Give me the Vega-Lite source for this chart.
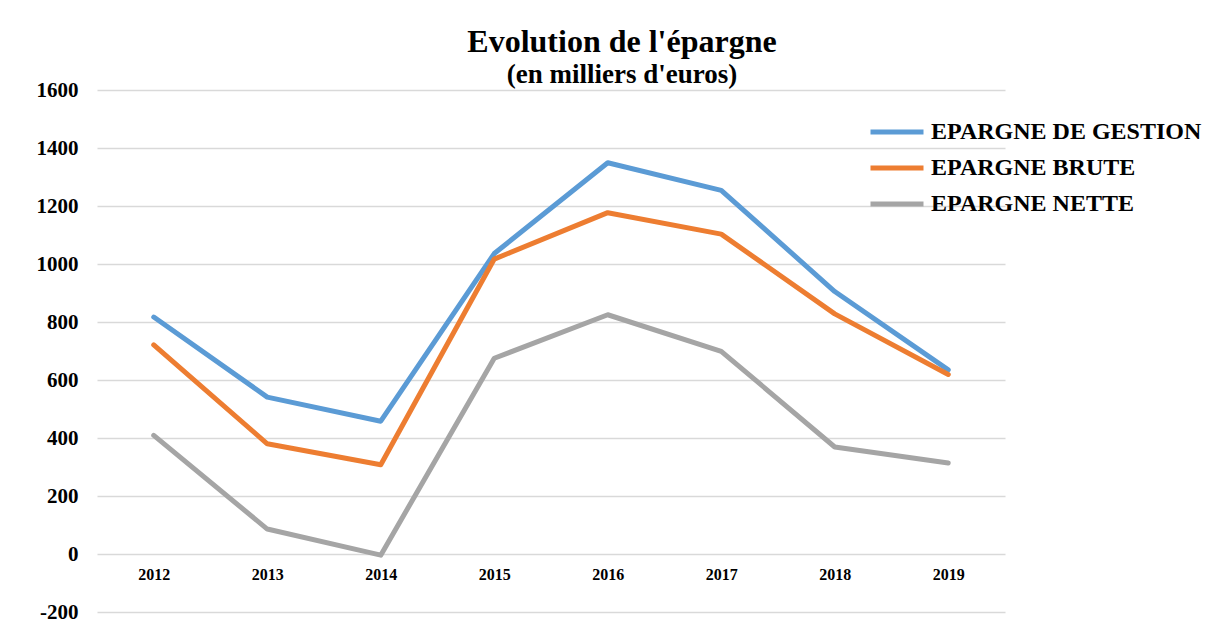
{
  "$schema": "https://vega.github.io/schema/vega-lite/v6.json",
  "width": 908,
  "height": 522,
  "autosize": {"type": "none"},
  "padding": {"left": 97, "top": 90, "right": 210, "bottom": 16},
  "background": "white",
  "config": {"view": {"stroke": null}},
  "title": {
    "text": "Evolution de l'épargne",
    "subtitle": "(en milliers d'euros)",
    "anchor": "middle",
    "dx": 71,
    "offset": -10,
    "font": "Liberation Serif",
    "fontSize": 32,
    "fontWeight": "bold",
    "color": "black",
    "subtitleFont": "Liberation Serif",
    "subtitleFontSize": 27,
    "subtitleFontWeight": "bold",
    "subtitleColor": "black",
    "subtitlePadding": 3
  },
  "data": {
    "values": [
      {"annee": "2012", "serie": "EPARGNE DE GESTION", "valeur": 817},
      {"annee": "2013", "serie": "EPARGNE DE GESTION", "valeur": 541},
      {"annee": "2014", "serie": "EPARGNE DE GESTION", "valeur": 458},
      {"annee": "2015", "serie": "EPARGNE DE GESTION", "valeur": 1036},
      {"annee": "2016", "serie": "EPARGNE DE GESTION", "valeur": 1349},
      {"annee": "2017", "serie": "EPARGNE DE GESTION", "valeur": 1254},
      {"annee": "2018", "serie": "EPARGNE DE GESTION", "valeur": 905},
      {"annee": "2019", "serie": "EPARGNE DE GESTION", "valeur": 635},
      {"annee": "2012", "serie": "EPARGNE BRUTE", "valeur": 721},
      {"annee": "2013", "serie": "EPARGNE BRUTE", "valeur": 380},
      {"annee": "2014", "serie": "EPARGNE BRUTE", "valeur": 308},
      {"annee": "2015", "serie": "EPARGNE BRUTE", "valeur": 1017},
      {"annee": "2016", "serie": "EPARGNE BRUTE", "valeur": 1177},
      {"annee": "2017", "serie": "EPARGNE BRUTE", "valeur": 1103},
      {"annee": "2018", "serie": "EPARGNE BRUTE", "valeur": 828},
      {"annee": "2019", "serie": "EPARGNE BRUTE", "valeur": 619},
      {"annee": "2012", "serie": "EPARGNE NETTE", "valeur": 409},
      {"annee": "2013", "serie": "EPARGNE NETTE", "valeur": 86},
      {"annee": "2014", "serie": "EPARGNE NETTE", "valeur": -4},
      {"annee": "2015", "serie": "EPARGNE NETTE", "valeur": 675},
      {"annee": "2016", "serie": "EPARGNE NETTE", "valeur": 825},
      {"annee": "2017", "serie": "EPARGNE NETTE", "valeur": 699},
      {"annee": "2018", "serie": "EPARGNE NETTE", "valeur": 369},
      {"annee": "2019", "serie": "EPARGNE NETTE", "valeur": 314}
    ]
  },
  "mark": {"type": "line", "strokeWidth": 5, "strokeCap": "round", "strokeJoin": "round"},
  "encoding": {
    "x": {
      "field": "annee",
      "type": "ordinal",
      "scale": {"type": "point", "padding": 0.5},
      "axis": {
        "title": null,
        "orient": "bottom",
        "offset": -58,
        "domain": false,
        "ticks": false,
        "grid": false,
        "labelAngle": 0,
        "labelPadding": 12,
        "labelFont": "Liberation Serif",
        "labelFontSize": 16,
        "labelFontWeight": "bold",
        "labelColor": "black"
      }
    },
    "y": {
      "field": "valeur",
      "type": "quantitative",
      "scale": {"domain": [-200, 1600], "nice": false},
      "axis": {
        "title": null,
        "values": [-200, 0, 200, 400, 600, 800, 1000, 1200, 1400, 1600],
        "labelExpr": "'' + datum.value",
        "domain": false,
        "ticks": false,
        "grid": true,
        "gridColor": "#d9d9d9",
        "gridWidth": 1.5,
        "labelPadding": 19,
        "labelFont": "Liberation Serif",
        "labelFontSize": 21,
        "labelFontWeight": "bold",
        "labelColor": "black"
      }
    },
    "color": {
      "field": "serie",
      "type": "nominal",
      "scale": {
        "domain": ["EPARGNE DE GESTION", "EPARGNE BRUTE", "EPARGNE NETTE"],
        "range": ["#5B9BD5", "#ED7D31", "#A5A5A5"]
      },
      "legend": {
        "title": null,
        "orient": "none",
        "legendX": 771,
        "legendY": 24,
        "symbolType": "stroke",
        "symbolSize": 2809,
        "symbolStrokeWidth": 5,
        "labelFont": "Liberation Serif",
        "labelFontSize": 24,
        "labelFontWeight": "bold",
        "labelColor": "black",
        "labelOffset": 5,
        "rowPadding": 0,
        "clipHeight": 36,
        "labelLimit": 400
      }
    }
  }
}
